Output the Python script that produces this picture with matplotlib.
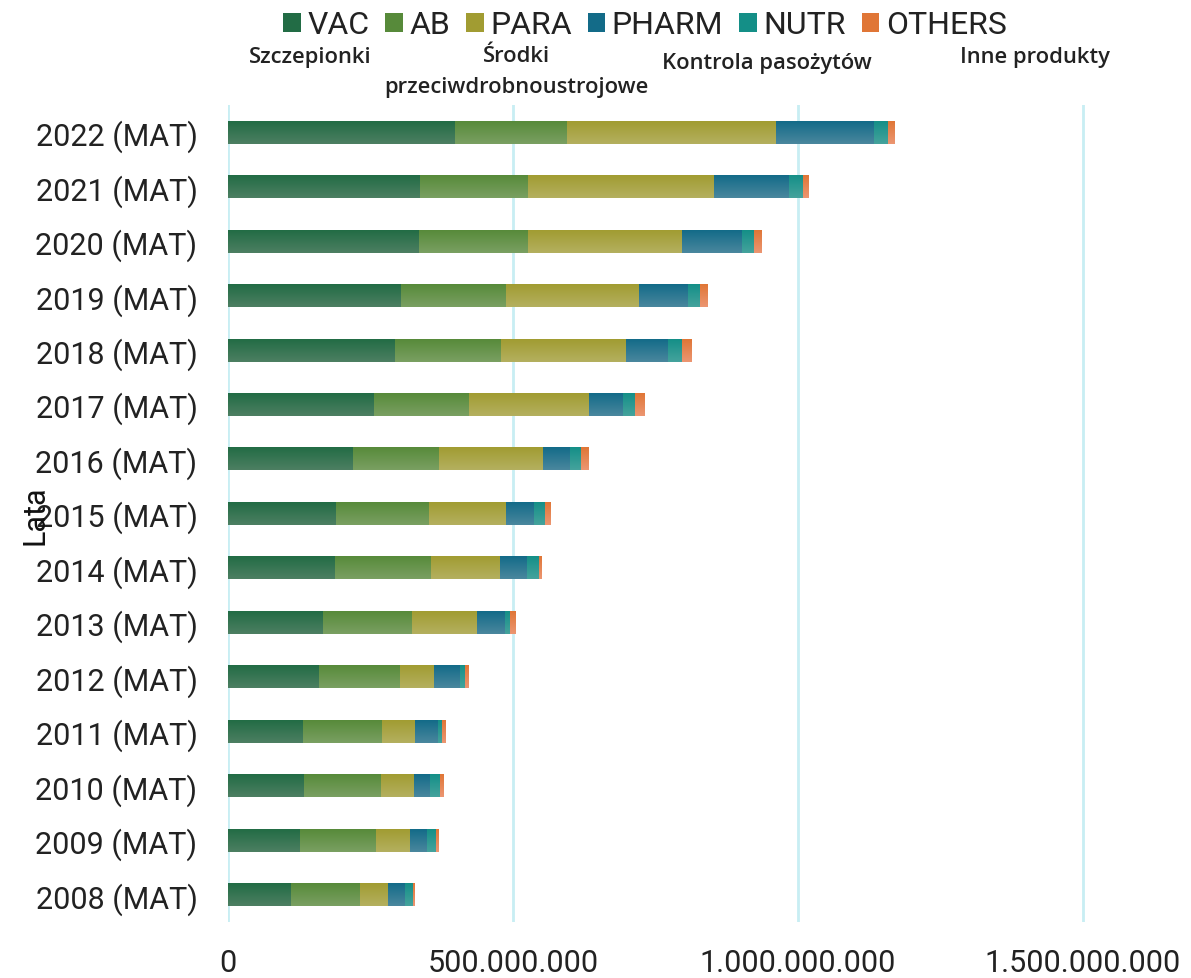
import matplotlib
matplotlib.use("Agg")
import matplotlib.pyplot as plt
import numpy as np
from matplotlib.colors import to_rgb
from matplotlib.ticker import FuncFormatter

plt.rcParams['font.family'] = ['Roboto', 'DejaVu Sans']

# Data (values in millions)
years = ['2008 (MAT)', '2009 (MAT)', '2010 (MAT)', '2011 (MAT)', '2012 (MAT)',
         '2013 (MAT)', '2014 (MAT)', '2015 (MAT)', '2016 (MAT)', '2017 (MAT)',
         '2018 (MAT)', '2019 (MAT)', '2020 (MAT)', '2021 (MAT)', '2022 (MAT)']
vac = [111, 127, 134, 132, 159, 167, 187, 190, 220, 257, 293, 304, 335, 337, 398]
ab = [121, 133, 135, 139, 143, 156, 170, 163, 150, 166, 186, 184, 191, 190, 197]
para = [49, 60, 58, 58, 60, 114, 121, 135, 183, 210, 219, 233, 271, 326, 366]
pharm = [30, 29.5, 28, 40, 45, 49, 47, 49, 47, 61, 75, 86, 105, 131, 172]
nutr = [14, 16, 17, 7, 9, 9, 21, 19, 19, 20, 23, 21, 22, 26, 26]
others = [3.5, 5, 5.5, 7, 7, 9, 5, 9, 14, 17, 16, 13, 13, 9, 11]

series = ['VAC', 'AB', 'PARA', 'PHARM', 'NUTR', 'OTHERS']
values = [vac, ab, para, pharm, nutr, others]
# (top, bottom) colours of the vertical gradient
colors = [('#4d7f62', '#226c45'), ('#7aa062', '#578a3a'), ('#b4b05f', '#a19c32'),
          ('#4a879e', '#136b88'), ('#45a39d', '#148f87'), ('#ec9672', '#e07636')]

fig = plt.figure(figsize=(11.91, 9.79), dpi=100)
ax = fig.add_axes([228 / 1191, 1 - 923 / 979, 923 / 1191, 817 / 979])

y = np.arange(len(years))
left = np.zeros(len(years))
for name, vals, (ctop, cbot) in zip(series, values, colors):
    v = np.array(vals) * 1e6
    bars = ax.barh(y, v, left=left, height=0.42, color=cbot, label=name,
                   edgecolor='none', zorder=3)
    # gradient overlay
    grad = np.linspace(0, 1, 64)[:, None]
    c0, c1 = np.array(to_rgb(ctop)), np.array(to_rgb(cbot))
    img = (c0[None, None, :] * (1 - grad[:, :, None]) + c1[None, None, :] * grad[:, :, None])
    for p in bars:
        x0, y0, w, h = p.get_x(), p.get_y(), p.get_width(), p.get_height()
        ax.imshow(img, extent=(x0, x0 + w, y0 + h, y0), aspect='auto',
                  interpolation='bilinear', zorder=4, origin='upper')
    left += v

ax.set_xlim(0, 1.62e9)
ax.set_ylim(-0.5, len(years) - 0.5)
ax.set_yticks(y)
ax.set_yticklabels(years)
ax.set_xticks([0, 5e8, 1e9, 1.5e9])
ax.xaxis.set_major_formatter(FuncFormatter(lambda v, p: f"{int(v):,}".replace(',', '.')))
ax.tick_params(axis='both', length=0, labelsize=22, labelcolor='#222222')
ax.tick_params(axis='y', pad=22)
ax.tick_params(axis='x', pad=19)
ax.grid(axis='x', color='#c8eef3', linewidth=2, zorder=0)
for s in ax.spines.values():
    s.set_visible(False)

fig.text(35 / 1191, 1 - 515 / 979, 'Lata', rotation=90, ha='center', va='center',
         fontsize=22, color='#111111')

leg = fig.legend(loc='center', bbox_to_anchor=(645 / 1191, 1 - 26 / 979), ncol=6,
                 frameon=False, fontsize=23, handlelength=0.55, handleheight=0.55,
                 handletextpad=0.2, columnspacing=0.5, borderaxespad=0)
for t in leg.get_texts():
    t.set_color('#222222')

ann = dict(fontsize=15.8, fontweight='semibold', family=['Open Sans', 'DejaVu Sans'],
           color='#222222', ha='center', va='center')
fig.text(310 / 1191, 1 - 57 / 979, 'Szczepionki', **ann)
fig.text(516 / 1191, 1 - 57 / 979, 'Środki', **ann)
fig.text(516 / 1191, 1 - 87 / 979, 'przeciwdrobnoustrojowe', **ann)
fig.text(767 / 1191, 1 - 63 / 979, 'Kontrola pasożytów', **ann)
fig.text(1035 / 1191, 1 - 57 / 979, 'Inne produkty', **ann)

fig.savefig('out.png', dpi=100)
